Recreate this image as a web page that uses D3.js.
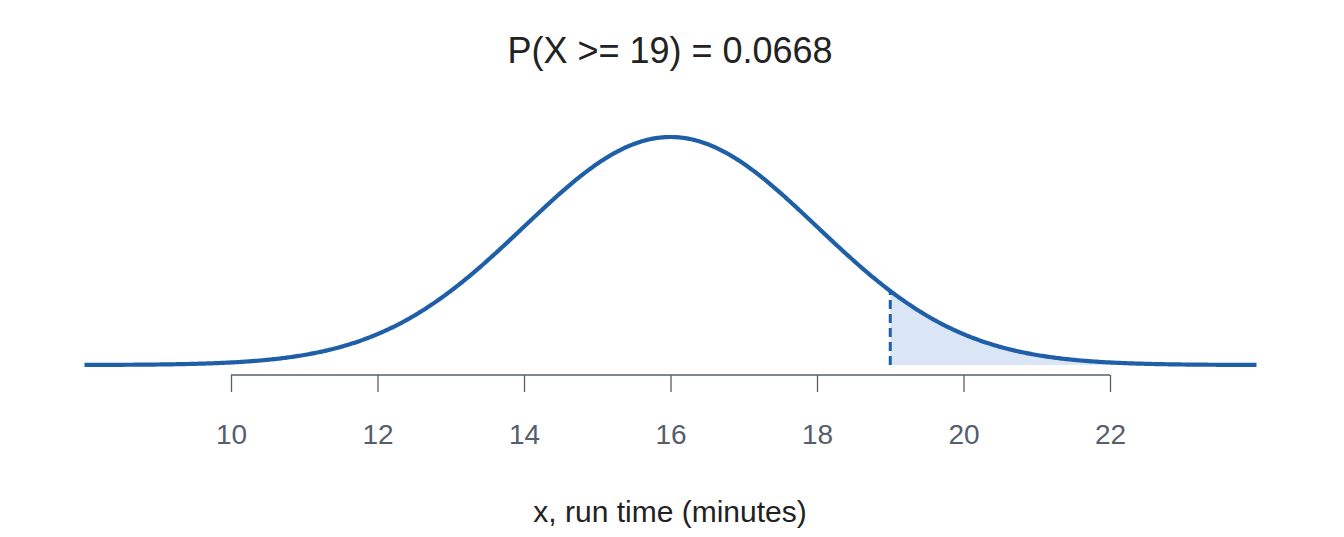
<!DOCTYPE html>
<html><head><meta charset="utf-8">
<script src="https://cdn.jsdelivr.net/npm/d3@7"></script>
<style>body{margin:0;background:#fff}</style></head>
<body><svg id="c" width="1344" height="537"></svg>
<script>
const mean = 16, sd = 2, cutoff = 19;
const xDomain = [8, 24];
const tickValues = [10, 12, 14, 16, 18, 20, 22];
const titleText = "P(X >= 19) = 0.0668";
const xLabel = "x, run time (minutes)";

const dens = x => Math.exp(-0.5*((x-mean)/sd)**2)/(sd*Math.sqrt(2*Math.PI));
const pts = d3.range(0, 801).map(i => xDomain[0] + (xDomain[1]-xDomain[0])*i/800);
const tail = pts.filter(x => x >= cutoff);

const svg = d3.select("#c");
const x = d3.scaleLinear().domain(xDomain).range([84.5, 1256.5]);
const y = d3.scaleLinear().domain([0, dens(mean)]).range([365, 137]);

svg.append("path").datum(tail)
  .attr("d", d3.area().x(d=>x(d)).y0(y(0)).y1(d=>y(dens(d))))
  .attr("fill", "#dae6f5");
svg.append("line").attr("x1", x(cutoff)).attr("x2", x(cutoff))
  .attr("y1", y(0)).attr("y2", y(dens(cutoff)))
  .attr("stroke", "#1f5fa8").attr("stroke-width", 3).attr("stroke-dasharray", "9,5");
svg.append("path").datum(pts)
  .attr("d", d3.line().x(d=>x(d)).y(d=>y(dens(d))))
  .attr("fill", "none").attr("stroke", "#1f5fa8").attr("stroke-width", 4.2);

const ax = svg.append("g").attr("transform", "translate(0,375)")
  .call(d3.axisBottom(x).tickValues(tickValues).tickSize(17).tickPadding(32).tickSizeOuter(0));
ax.select(".domain").attr("stroke", "#555e6b").attr("stroke-width", 1.3)
  .attr("d", `M${x(tickValues[0])},0H${x(tickValues[tickValues.length-1])}`);
ax.selectAll(".tick line").attr("stroke", "#555e6b").attr("stroke-width", 1.3);
ax.selectAll(".tick text").attr("fill", "#555e6b").style("font", "28px 'Liberation Sans', Arial, sans-serif");

svg.append("text").attr("x", 670).attr("y", 63).attr("text-anchor", "middle")
  .style("font", "36px 'Liberation Sans', Arial, sans-serif").attr("fill", "#222").text(titleText);
svg.append("text").attr("x", 670).attr("y", 522).attr("text-anchor", "middle")
  .style("font", "30px 'Liberation Sans', Arial, sans-serif").attr("fill", "#222").text(xLabel);
</script></body></html>
